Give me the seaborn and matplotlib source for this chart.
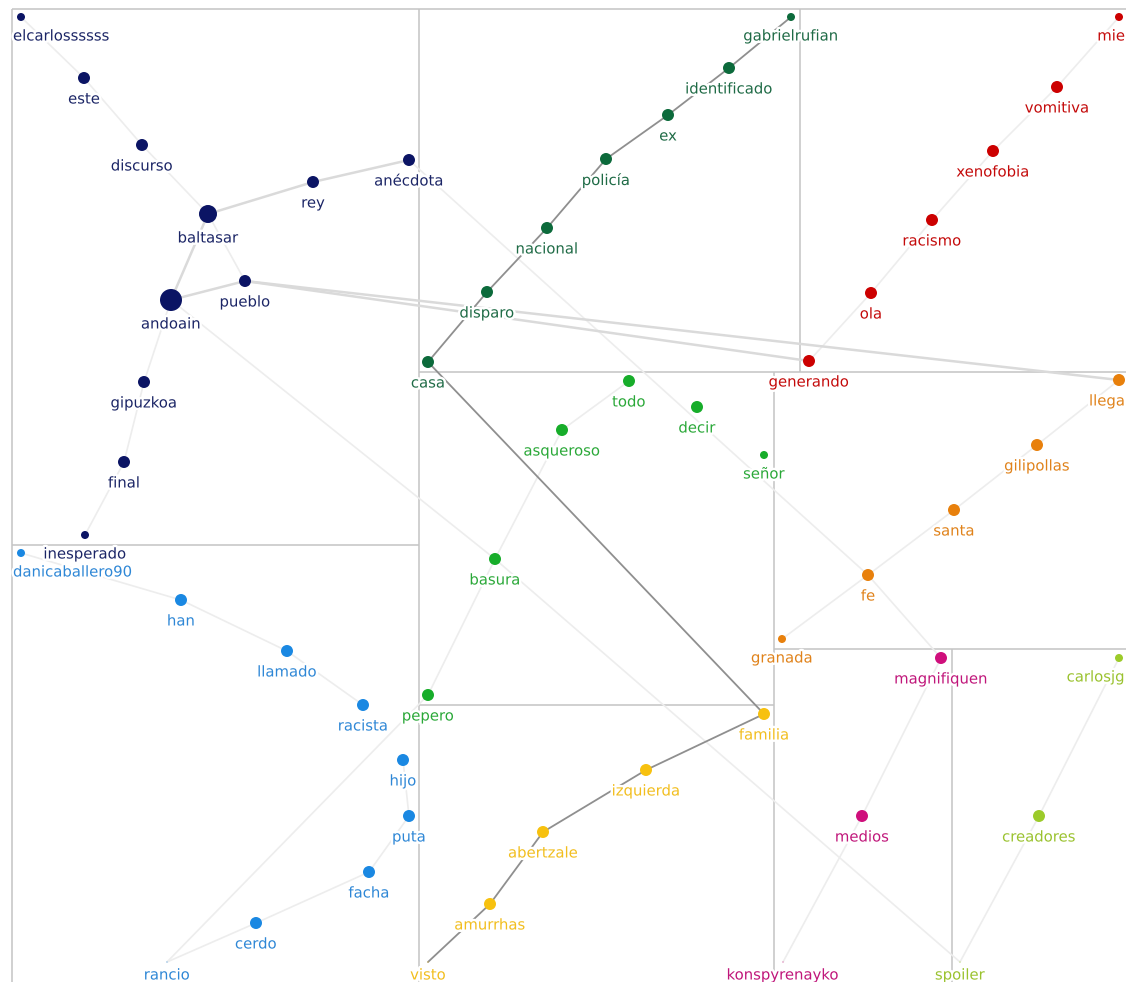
import matplotlib
matplotlib.use("Agg")
import matplotlib.pyplot as plt
import matplotlib.patheffects as pe
import seaborn as sns
import pandas as pd

# ---------------- data ----------------
names = ["elcarlossssss", "este", "discurso", "baltasar", "rey", "anécdota", "pueblo", "andoain",
         "gipuzkoa", "final", "inesperado",
         "gabrielrufian", "identificado", "ex", "policía", "nacional", "disparo", "casa",
         "mie", "vomitiva", "xenofobia", "racismo", "ola", "generando",
         "llega", "gilipollas", "santa", "fe", "granada",
         "todo", "asqueroso", "decir", "señor", "basura", "pepero",
         "danicaballero90", "han", "llamado", "racista", "hijo", "puta", "facha", "cerdo", "rancio",
         "familia", "izquierda", "abertzale", "amurrhas", "visto",
         "magnifiquen", "medios", "konspyrenayko",
         "carlosjg", "creadores", "spoiler"]
groups = (["navy"] * 11 + ["dgreen"] * 7 + ["red"] * 6 + ["orange"] * 5 + ["green"] * 6 +
          ["blue"] * 9 + ["yellow"] * 5 + ["magenta"] * 3 + ["ygreen"] * 3)
node_x = [21, 84, 142, 208, 313, 409, 245, 171, 144, 124, 85,
          791, 729, 668, 606, 547, 487, 428,
          1119, 1057, 993, 932, 871, 809,
          1119, 1037, 954, 868, 782,
          629, 562, 697, 764, 495, 428,
          21, 181, 287, 363, 403, 409, 369, 256, 167,
          764, 646, 543, 490, 428,
          941, 862, 783,
          1119, 1039, 960]
node_y = [17, 78, 145, 214, 182, 160, 281, 300, 382, 462, 535,
          17, 68, 115, 159, 228, 292, 362,
          17, 87, 151, 220, 293, 361,
          380, 445, 510, 575, 639,
          381, 430, 407, 455, 559, 695,
          553, 600, 651, 705, 760, 816, 872, 923, 962,
          714, 770, 832, 904, 962,
          658, 816, 962,
          658, 816, 962]
node_r = [4, 6, 6, 9, 6, 6, 6, 11, 6, 6, 4,
          4, 6, 6, 6, 6, 6, 6,
          4, 6, 6, 6, 6, 6,
          6, 6, 6, 6, 4,
          6, 6, 6, 4, 6, 6,
          4, 6, 6, 6, 6, 6, 6, 6, 0.5,
          6, 6, 6, 6, 0.5,
          6, 6, 0.5,
          4, 6, 0.5]

strong_edges = [("gabrielrufian", "identificado"), ("identificado", "ex"), ("ex", "policía"),
                ("policía", "nacional"), ("nacional", "disparo"), ("disparo", "casa"),
                ("casa", "familia"),
                ("familia", "izquierda"), ("izquierda", "abertzale"), ("abertzale", "amurrhas"),
                ("amurrhas", "visto")]
medium_edges = [("baltasar", "rey"), ("rey", "anécdota"), ("baltasar", "andoain"),
                ("pueblo", "generando"), ("pueblo", "llega"), ("andoain", "pueblo")]
faint_edges = [("elcarlossssss", "este"), ("este", "discurso"), ("discurso", "baltasar"),
               ("baltasar", "pueblo"), ("andoain", "gipuzkoa"), ("gipuzkoa", "final"),
               ("final", "inesperado"), ("andoain", "basura"), ("basura", "spoiler"),
               ("anécdota", "fe"), ("fe", "magnifiquen"),
               ("mie", "vomitiva"), ("vomitiva", "xenofobia"), ("xenofobia", "racismo"),
               ("racismo", "ola"), ("ola", "generando"),
               ("llega", "gilipollas"), ("gilipollas", "santa"), ("santa", "fe"), ("fe", "granada"),
               ("todo", "asqueroso"), ("asqueroso", "basura"), ("basura", "pepero"),
               ("pepero", "rancio"), ("danicaballero90", "han"), ("han", "llamado"),
               ("llamado", "racista"), ("hijo", "puta"), ("puta", "facha"), ("facha", "cerdo"),
               ("cerdo", "rancio"),
               ("magnifiquen", "medios"), ("medios", "konspyrenayko"),
               ("carlosjg", "creadores"), ("creadores", "spoiler")]

# partition (community) boxes
h_lines = [(9, 12, 1126), (372, 419, 1126), (545, 12, 419), (705, 419, 774), (649, 774, 1126)]
v_lines = [(12, 9, 982), (419, 9, 982), (800, 9, 372), (774, 372, 982), (952, 649, 982)]

node_colors = {"navy": "#0b1464", "dgreen": "#0c6a3b", "red": "#cc0000", "orange": "#e8800c",
               "green": "#17ad2a", "blue": "#1a88e2", "yellow": "#f7c10f",
               "magenta": "#cf0f7c", "ygreen": "#9ccb2a"}
text_colors = {"navy": "#1b2566", "dgreen": "#1f6b46", "red": "#c40a0a", "orange": "#e0821a",
               "green": "#2aa838", "blue": "#2e87d6", "yellow": "#f2be1e",
               "magenta": "#c0167a", "ygreen": "#9ac22e"}

# ---------------- plot ----------------
sns.set_style("white")
plt.rcParams["font.family"] = ["DejaVu Sans"]

W, H = 1126, 982
df = pd.DataFrame({"name": names, "group": groups, "x": node_x, "y": node_y, "r": node_r})
pos = {n: (x, y) for n, x, y in zip(names, node_x, node_y)}

fig = plt.figure(figsize=(11.26, 9.82), dpi=100)
ax = fig.add_axes([0, 0, 1, 1])

for y, x0, x1 in h_lines:
    ax.plot([x0, x1], [y, y], color="#c4c4c4", lw=1.1, zorder=1, solid_capstyle="butt")
for x, y0, y1 in v_lines:
    ax.plot([x, x], [y0, y1], color="#c4c4c4", lw=1.1, zorder=1, solid_capstyle="butt")

for edges, col, lw in [(faint_edges, "#ededed", 1.2), (medium_edges, "#dadada", 1.8),
                       (strong_edges, "#8f8f8f", 1.3)]:
    for a, b in edges:
        ax.plot([pos[a][0], pos[b][0]], [pos[a][1], pos[b][1]], color=col, lw=lw, zorder=2)

size_map = {r: (2 * r * 0.72) ** 2 for r in sorted(set(node_r))}
sns.scatterplot(data=df, x="x", y="y", hue="group", palette=node_colors, size="r",
                sizes=size_map, legend=False, linewidth=0, ax=ax, zorder=4)
ax.set_xlim(0, W)
ax.set_ylim(H, 0)
ax.axis("off")

renderer = fig.canvas.get_renderer()
for n, g, x, y, r in zip(names, groups, node_x, node_y, node_r):
    off = min(r + 15, 24) if r >= 1 else 13
    t = ax.text(x, y + off, n, ha="center", va="center", fontsize=10.7, color=text_colors[g],
                zorder=5, clip_on=True,
                path_effects=[pe.withStroke(linewidth=3.5, foreground="white")])
    w = t.get_window_extent(renderer).width
    if x - w / 2 < 13:
        t.set_x(13 + w / 2)
    elif x + w / 2 > W - 1:
        t.set_ha("right")
        t.set_x(W - 1)

fig.savefig("out.png", dpi=100)
